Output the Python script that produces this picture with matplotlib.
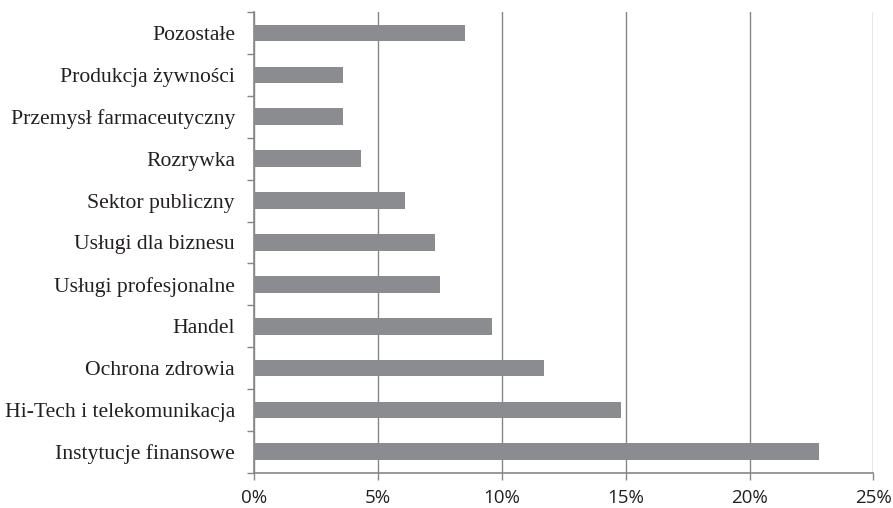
import numpy as np
import matplotlib
matplotlib.use("Agg")
import matplotlib.pyplot as plt
from matplotlib.ticker import FuncFormatter, FixedLocator

# categories from bottom to top
categories = ["Instytucje finansowe", "Hi-Tech i telekomunikacja", "Ochrona zdrowia",
              "Handel", "Usługi profesjonalne", "Usługi dla biznesu", "Sektor publiczny",
              "Rozrywka", "Przemysł farmaceutyczny", "Produkcja żywności", "Pozostałe"]
shares = [22.8, 14.8, 11.7, 9.6, 7.5, 7.3, 6.1, 4.3, 3.6, 3.6, 8.5]
xticks = [0, 5, 10, 15, 20, 25]

axis_grey = "#868686"
bar_grey = "#8b8c90"

fig = plt.figure(figsize=(8.93, 5.08), dpi=100)
ax = fig.add_axes([0.2848, 0.0695, 0.978 - 0.2848, 0.976 - 0.0695])

y = np.arange(len(categories))
ax.barh(y, shares, height=0.4, color=bar_grey, zorder=3)

ax.set_xlim(0, 25)
ax.set_ylim(-0.5, len(categories) - 0.5)

ax.set_xticks(xticks)
ax.xaxis.set_major_formatter(FuncFormatter(lambda v, p: "{0:.0f}%".format(v)))
ax.grid(axis="x", color=axis_grey, linewidth=1.0, zorder=0)

ax.set_yticks(y)
ax.set_yticklabels(categories, fontfamily="Liberation Serif", fontsize=15.6, color="#231f20")
ax.yaxis.set_minor_locator(FixedLocator(np.arange(-0.5, len(categories), 1.0)))
ax.tick_params(axis="y", which="major", length=0, pad=14)
ax.tick_params(axis="y", which="minor", length=5, width=1, color=axis_grey)
ax.tick_params(axis="x", which="major", length=5, width=1, color=axis_grey, pad=6.5)
for lab in ax.get_xticklabels():
    lab.set_fontfamily("Open Sans")
    lab.set_fontsize(13.5)
    lab.set_color("#231f20")

for s in ["top", "right"]:
    ax.spines[s].set_visible(False)
for s in ["left", "bottom"]:
    ax.spines[s].set_color(axis_grey)
    ax.spines[s].set_linewidth(1.2)

fig.savefig("out.png", dpi=100)
